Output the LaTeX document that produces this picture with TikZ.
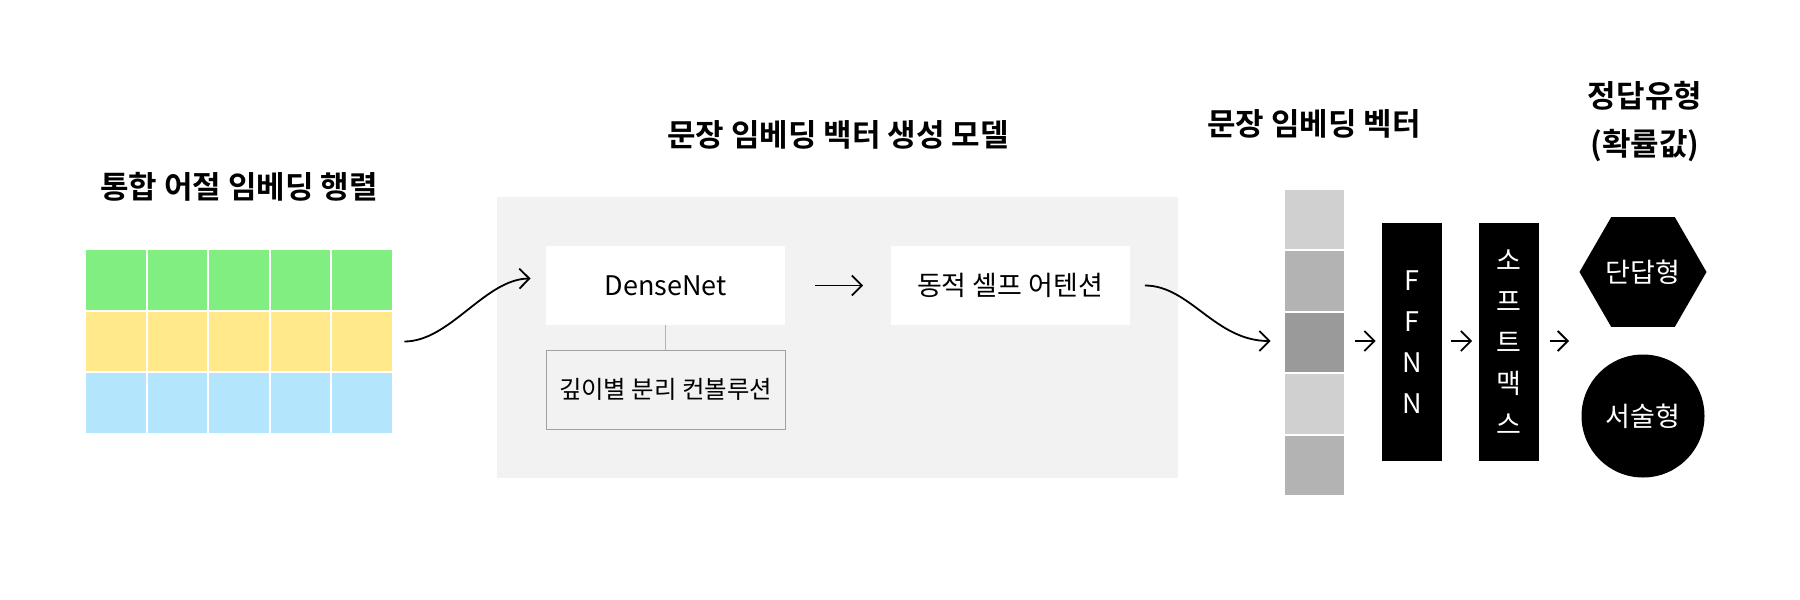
\documentclass[tikz,border=0pt]{standalone}
\usepackage{fontspec}
\setmainfont{Noto Sans CJK KR}[BoldFont={Noto Sans CJK KR Bold}]
\usetikzlibrary{arrows.meta,shapes.geometric,calc}
\definecolor{cgreen}{HTML}{80EE80}
\definecolor{cyellow}{HTML}{FFE98A}
\definecolor{cblue}{HTML}{B3E5FC}
\definecolor{bggray}{HTML}{F2F2F2}
\definecolor{v1}{HTML}{D0D0D0}
\definecolor{v2}{HTML}{B3B3B3}
\definecolor{v3}{HTML}{9A9A9A}
\definecolor{subborder}{HTML}{A0A0A0}
\tikzset{
  title/.style={font=\bfseries\fontsize{15.5}{18}\selectfont, inner sep=0pt},
  wbox/.style={fill=white, minimum width=119.5pt, minimum height=39.5pt, inner sep=0pt, font=\fontsize{13.5}{16}\selectfont},
  subbox/.style={fill=bggray, draw=subborder, line width=0.5pt, minimum width=119.5pt, minimum height=39.5pt, inner sep=0pt, font=\fontsize{12.2}{14}\selectfont},
  bbox/.style={fill=black, text=white, minimum width=30pt, minimum height=119pt, inner sep=0pt, align=center, font=\fontsize{13.5}{20.5}\selectfont},
  arr/.style={line width=0.9pt, -{Straight Barb[length=5pt,width=10pt,line width=0.9pt]}},
}
\begin{document}
\begin{tikzpicture}[x=0.5pt,y=-0.5pt]
\useasboundingbox (0,0) rectangle (1800,600);
% titles
\node[title] (t1) at (239,187) {통합 어절 임베딩 행렬};
\node[title] (t2) at (838,135) {문장 임베딩 백터 생성 모델};
\node[title] (t3) at (1314,124) {문장 임베딩 벡터};
\node[title] (t4a) at (1645,96) {정답유형};
\node[title] (t4b) at (1645,146) {(확률값)};
% matrix
\node[minimum width=154pt, minimum height=92.5pt, inner sep=0pt] (mat) at (239,341.5) {};
\foreach \r/\c in {0/cgreen,1/cyellow,2/cblue}{
  \foreach \k in {0,...,4}{
    \fill[\c] ({85+\k*61.6+1},{249+\r*61.67+1}) rectangle ({85+(\k+1)*61.6-1},{249+(\r+1)*61.67-1});
  }
}
% model box
\node[fill=bggray, minimum width=340.5pt, minimum height=140.5pt, inner sep=0pt] (model) at (837.5,337.5) {};
\node[wbox] (dense) at (665.5,285.5) {DenseNet};
\node[subbox] (dsc) at (665.5,389.5) {깊이별 분리 컨볼루션};
\node[wbox] (att) at (1010,285.5) {동적 셀프 어텐션};
\draw[subborder!80, line width=0.5pt] (dense.south) -- (dsc.north);
% vector
\node[minimum width=29.5pt, minimum height=153.5pt, inner sep=0pt] (vec) at (1314.5,342.5) {};
\foreach \k/\c in {0/v1,1/v2,2/v3,3/v1,4/v2}{
  \fill[\c] (1285,{189+\k*61.4+1}) rectangle (1344,{189+(\k+1)*61.4-1});
}
% FFNN, softmax
\node[bbox] (ffnn) at (1412,342) {F\\F\\N\\N};
\node[bbox] (soft) at (1508.5,342) {소\\프\\트\\맥\\스};
% outputs
\node[regular polygon, regular polygon sides=6, fill=black, minimum size=63.5pt, inner sep=0pt, text=white, font=\fontsize{13.5}{16}\selectfont] (hex) at (1643,272) {단답형};
\node[circle, fill=black, minimum size=61.5pt, inner sep=0pt, text=white, font=\fontsize{13.5}{16}\selectfont] (circ) at (1643,416) {서술형};
\coordinate (outend) at (1569,341);
% arrows
\draw[arr] ($(mat.east)+(11,0)$) .. controls (450,341.5) and (485,279) .. ($(dense.west)+(-15,-7)$);
\draw[arr, shorten <=15pt, shorten >=13.5pt] (dense.east) -- (att.west);
\draw[arr] ($(att.east)+(15,0)$) .. controls (1190,285.5) and (1215,341) .. ($(vec.west)+(-14,-1.5)$);
\draw[arr, shorten <=5.5pt, shorten >=3pt] ($(vec.east)+(0,-1.5)$) -- ($(ffnn.west)+(0,-1)$);
\draw[arr, shorten <=4.5pt, shorten >=3pt] ($(ffnn.east)+(0,-1)$) -- ($(soft.west)+(0,-1)$);
\draw[arr, shorten <=5.5pt] ($(soft.east)+(0,-1)$) -- (outend);
\end{tikzpicture}
\end{document}
